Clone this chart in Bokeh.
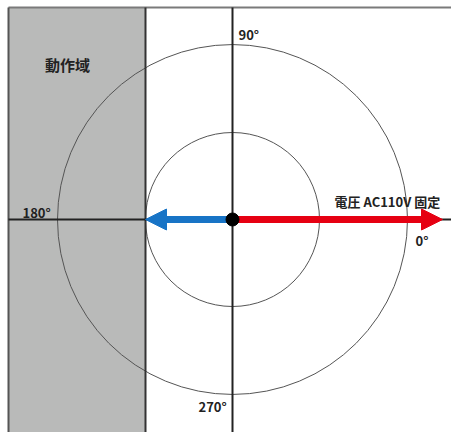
from bokeh.plotting import figure
from bokeh.models import Arrow, NormalHead
from bokeh.core.properties import value
from bokeh.embed import file_html
from bokeh.resources import INLINE

# Diagram data (pixel-like units, origin at the centre)
circle_radii = [87, 175]
angle_labels = ["0°", "90°", "180°", "270°"]
angle_label_x = [183, 6, -210, -34]
angle_label_y = [-21, 185, 7, -187]
voltage_label = "電圧 AC110V 固定"
voltage_label_pos = (102, 18)
region_label = "動作域"
region_label_pos = (-165, 155)
frame_left, frame_top = -224, 212
operating_region_right = -87       # boundary of shaded region
vector_red_end = 210               # 0° vector
vector_blue_end = -87              # 180° vector
x_extent = [-232, 219]
y_extent = [-213, 219]

p = figure(width=451, height=432, output_backend="svg", toolbar_location=None,
           x_range=tuple(x_extent), y_range=tuple(y_extent), min_border=0)
p.axis.visible = False
p.grid.visible = False
p.outline_line_color = None
p.background_fill_color = "white"
p.border_fill_color = "white"

# shaded operating region
p.quad(left=[frame_left], right=[operating_region_right],
       bottom=[y_extent[0]], top=[frame_top],
       fill_color="#b9bab9", line_color=None)

# frame lines: top and left
p.segment(x0=[frame_left], y0=[frame_top], x1=[x_extent[1]], y1=[frame_top],
          line_color="#7a7a7a", line_width=2)
p.segment(x0=[frame_left], y0=[y_extent[0]], x1=[frame_left], y1=[frame_top],
          line_color="#555555", line_width=2)

# circles
p.circle(x=[0, 0], y=[0, 0], radius=circle_radii, fill_color=None,
         line_color="#555555", line_width=1)

# region boundary
p.segment(x0=[operating_region_right], y0=[y_extent[0]], x1=[operating_region_right], y1=[frame_top],
          line_color="#333333", line_width=2)

# axes cross
p.segment(x0=[frame_left, 0], y0=[0, y_extent[0]], x1=[x_extent[1], 0], y1=[0, frame_top],
          line_color="#222222", line_width=2)

# vectors
p.add_layout(Arrow(end=NormalHead(size=21, fill_color="#e60012", line_color="#e60012"),
                   x_start=0, y_start=0, x_end=vector_red_end, y_end=0,
                   line_color="#e60012", line_width=7))
p.add_layout(Arrow(end=NormalHead(size=21, fill_color="#1874c6", line_color="#1874c6"),
                   x_start=0, y_start=0, x_end=vector_blue_end, y_end=0,
                   line_color="#1874c6", line_width=7))
p.scatter(x=[0], y=[0], size=13, fill_color="black", line_color="black", level="overlay")

# labels
font = value("Noto Sans CJK JP")
p.text(x=angle_label_x, y=angle_label_y, text=angle_labels, text_font=font,
       text_font_size="13px", text_font_style="bold", text_color="#222222",
       text_baseline="middle", text_align="left")
p.text(x=[voltage_label_pos[0]], y=[voltage_label_pos[1]], text=[voltage_label], text_font=font,
       text_font_size="13px", text_font_style="bold", text_color="#222222",
       text_baseline="middle", text_align="left")
p.text(x=[region_label_pos[0]], y=[region_label_pos[1]], text=[region_label], text_font=font,
       text_font_size="15px", text_font_style="bold", text_color="#222222",
       text_baseline="middle", text_align="center")

open("out.html", "w").write(file_html(p, INLINE))
